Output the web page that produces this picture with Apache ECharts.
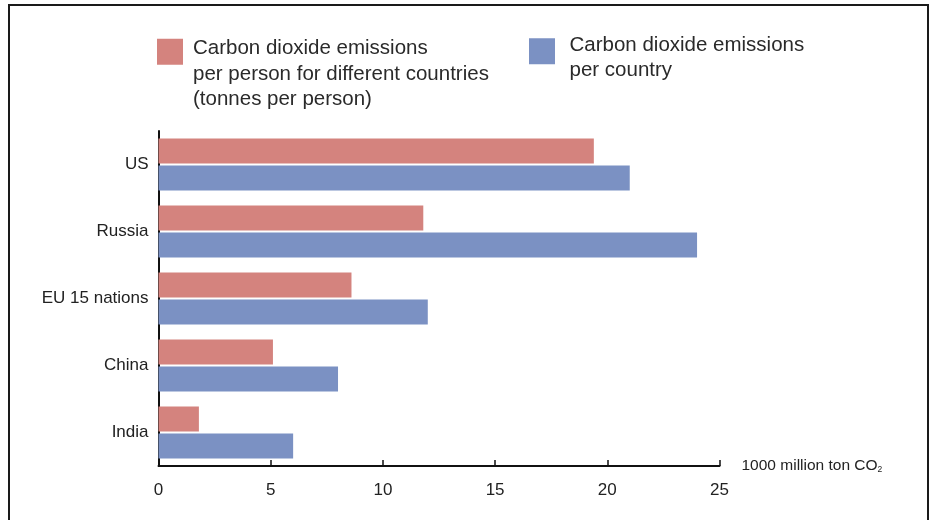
<!DOCTYPE html>
<html>
<head>
<meta charset="utf-8">
<script src="https://cdn.jsdelivr.net/npm/echarts@6/dist/echarts.min.js"></script>
<style>
  html, body { margin: 0; padding: 0; background: #fff; }
  #chart { width: 933px; height: 520px; }
</style>
</head>
<body>
<div id="chart"></div>
<script>
// values
let categories = ['US', 'Russia', 'EU 15 nations', 'China', 'India'];
let per_person = [19.4, 11.8, 8.6, 5.1, 1.8];
let per_country = [21.0, 24.0, 12.0, 8.0, 6.0];
let x_ticks = [0, 5, 10, 15, 20, 25];

let name_person = 'Carbon dioxide emissions per person for different countries (tonnes per person)';
let name_country = 'Carbon dioxide emissions per country';
let legend_text = {};
legend_text[name_person] = 'Carbon dioxide emissions\nper person for different countries\n(tonnes per person)';
legend_text[name_country] = 'Carbon dioxide emissions\nper country';

let RED = '#d4837e';
let BLUE = '#7b91c3';
let FONT = '"Liberation Sans", Arial, sans-serif';

let chart_dom = echarts.init(document.getElementById('chart'));

// spacer line on top pushes the text down so the first line sits next to the square
function make_legend(name, left, top, spacer, indent) {
    return {
        data: [name],
        left: left,
        top: top,
        padding: 0,
        orient: 'vertical',
        icon: 'rect',
        itemWidth: 26,
        itemHeight: 26,
        selectedMode: false,
        formatter: function (n) {
            let lines = legend_text[n].split('\n').map(function (l) { return '{t|' + l + '}'; });
            return '{g| }\n' + lines.join('\n');
        },
        textStyle: {
            fontFamily: FONT,
            fontSize: 20.5,
            color: '#2a2a2a',
            rich: {
                g: { fontSize: 2, lineHeight: spacer },
                t: { fontFamily: FONT, fontSize: 20.5, color: '#2a2a2a', lineHeight: 25.5, padding: [0, 0, 0, indent] }
            }
        }
    };
}

let option = {
    animation: false,
    backgroundColor: '#fff',
    textStyle: { fontFamily: FONT },
    graphic: [{
        type: 'rect',
        shape: { x: 9, y: 5, width: 919, height: 600 },
        style: { fill: 'none', stroke: '#1a1a1a', lineWidth: 2 },
        silent: true
    }],
    legend: [
        make_legend(name_person, 157, 12.5, 45, 5),
        make_legend(name_country, 529, 24.75, 13.5, 9.5)
    ],
    grid: { left: 158.5, right: 213.5, top: 131, bottom: 54 },
    xAxis: {
        type: 'value',
        min: x_ticks[0],
        max: x_ticks[x_ticks.length - 1],
        interval: 5,
        name: '1000 million ton CO{s|2}',
        nameLocation: 'end',
        nameGap: 22,
        nameTextStyle: {
            fontFamily: FONT,
            fontSize: 15.5,
            color: '#222',
            verticalAlign: 'middle',
            rich: {
                s: { fontSize: 8.5, color: '#222', verticalAlign: 'bottom' }
            }
        },
        axisLine: { show: true, lineStyle: { color: '#111', width: 2 } },
        axisTick: { show: true, inside: true, length: 6, lineStyle: { color: '#111', width: 1.5 } },
        axisLabel: { color: '#222', fontSize: 17, margin: 16, fontFamily: FONT },
        splitLine: { show: false }
    },
    yAxis: {
        type: 'category',
        data: categories,
        inverse: true,
        axisLine: { show: true, lineStyle: { color: '#111', width: 2 } },
        axisTick: { show: false },
        axisLabel: { color: '#222', fontSize: 17, margin: 10, fontFamily: FONT },
        splitLine: { show: false }
    },
    series: [
        {
            name: name_person,
            type: 'bar',
            data: per_person,
            barWidth: 25,
            barGap: '8%',
            itemStyle: { color: RED },
            emphasis: { disabled: true }
        },
        {
            name: name_country,
            type: 'bar',
            data: per_country,
            barWidth: 25,
            barGap: '8%',
            itemStyle: { color: BLUE },
            emphasis: { disabled: true }
        }
    ]
};

chart_dom.setOption(option);
</script>
</body>
</html>
